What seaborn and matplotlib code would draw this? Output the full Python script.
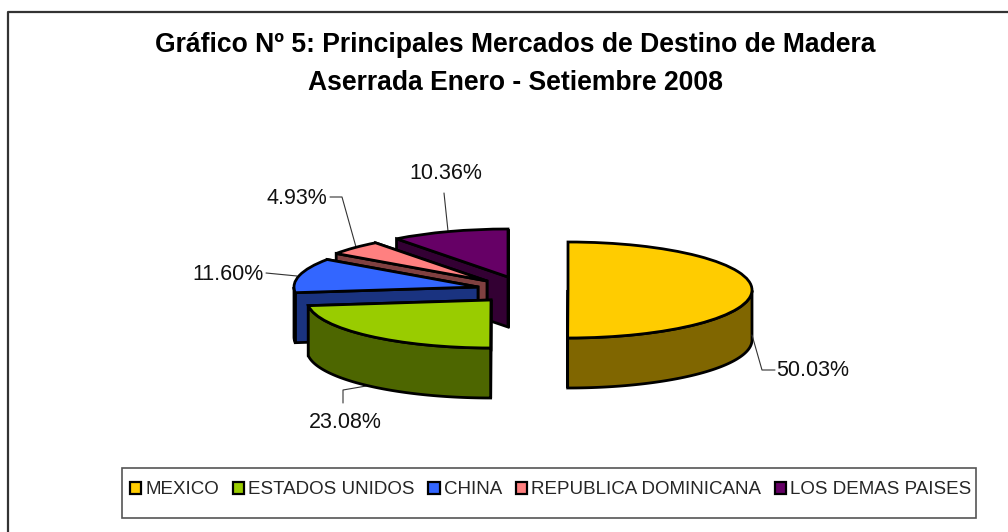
import numpy as np
import matplotlib
matplotlib.use("Agg")
import matplotlib.pyplot as plt
from matplotlib.patches import Polygon, Rectangle
import seaborn as sns

categories = ["MEXICO", "ESTADOS UNIDOS", "CHINA", "REPUBLICA DOMINICANA", "LOS DEMAS PAISES"]
shares = [50.03, 23.08, 11.60, 4.93, 10.36]
top_colors = ["#FFCC00", "#99CC00", "#3366FF", "#FF8080", "#660066"]
side_colors = ["#806600", "#4D6600", "#1A3380", "#804040", "#330033"]
title_lines = ["Gráfico Nº 5: Principales Mercados de Destino de Madera",
               "Aserrada Enero - Setiembre 2008"]

W, H = 1008, 532
RX, RY, DEPTH = 184.0, 48.0, 50
SQ = RY / RX
centers_px = [(568, 290), (491, 300), (478, 287), (487, 281), (508, 277)]
label_px = [(813, 371), (345, 423), (228, 275), (296.5, 199), (445.5, 174)]
leaders_px = [[(752, 335), (762, 370), (775, 370)],
              [(343, 403), (343, 390), (372, 385)],
              [(266, 273), (297, 276)],
              [(330, 197), (342, 197), (356, 247)],
              [(444, 193), (448, 231)]]

sns.set_theme(style="white")
plt.rcParams["font.family"] = ["Liberation Sans", "DejaVu Sans"]
fig = plt.figure(figsize=(W / 100, H / 100), dpi=100, facecolor="white")
ax = fig.add_axes([0, 0, 1, 1])


def to_data(px, py):
    return px, (H - py) / SQ


wedges, _ = ax.pie(shares, colors=top_colors, startangle=90, counterclock=False, radius=RX,
                   wedgeprops=dict(edgecolor="black", linewidth=2.0, joinstyle="miter"))
ax.set_aspect("auto")
ax.set_xlim(0, W)
ax.set_ylim(0, H / SQ)
ax.axis("off")

dz = DEPTH / SQ
order = [4, 3, 2, 1, 0]
for z, i in enumerate(order):
    w = wedges[i]
    cx, cy = to_data(*centers_px[i])
    w.set_center((cx, cy))
    w.set_zorder(10 + 3 * z + 2)
    w.set_clip_on(False)
    # flat cut walls
    for th in (w.theta1, w.theta2):
        t = np.radians(th)
        tip = (cx + RX * np.cos(t), cy + RX * np.sin(t))
        ax.add_patch(Polygon([(cx, cy), tip, (tip[0], tip[1] - dz), (cx, cy - dz)], closed=True,
                             facecolor=side_colors[i], edgecolor="black", lw=2.0,
                             zorder=10 + 3 * z, joinstyle="miter"))
    # outer rim wall on the front half
    a = np.linspace(w.theta1, w.theta2, 200)
    a = a[np.sin(np.radians(a)) <= 0.0] if np.any(np.sin(np.radians(a)) <= 0.0) else np.array([])
    if a.size:
        t = np.radians(a)
        xs, ys = cx + RX * np.cos(t), cy + RX * np.sin(t)
        pts = np.r_[np.c_[xs, ys], np.c_[xs[::-1], ys[::-1] - dz]]
        ax.add_patch(Polygon(pts, closed=True, facecolor=side_colors[i], edgecolor="black", lw=2.0,
                             zorder=10 + 3 * z + 1, joinstyle="miter"))

for i, v in enumerate(shares):
    ax.text(*to_data(*label_px[i]), f"{v:.2f}%", ha="center", va="center", fontsize=15.5,
            color="#111111", zorder=60)
    pts = np.array([to_data(*p) for p in leaders_px[i]])
    ax.plot(pts[:, 0], pts[:, 1], color="#333333", lw=0.8, zorder=5 if i else 50)

for j, line in enumerate(title_lines):
    ax.text(*to_data(515.5, 45 + 38 * j), line, ha="center", va="center", fontsize=19.1,
            fontweight="bold", color="black")

# chart frame: only left and top edges are inside the picture
ax.plot(*zip(*[to_data(*p) for p in [(7.5, 532), (7.5, 12), (1008, 12)]]),
        color="#333333", lw=1.6, clip_on=False)

# legend box
x0, y0 = to_data(122, 518)
x1, y1 = to_data(976, 468)
ax.add_patch(Rectangle((x0, y0), x1 - x0, y1 - y0, facecolor="white", edgecolor="#555555",
                       lw=1.2, zorder=65))
leg = ax.legend(handles=wedges, labels=categories, ncol=5, loc="center left",
                bbox_to_anchor=(130 / W, 1 - 490 / H), bbox_transform=fig.transFigure,
                fontsize=13.5, frameon=False,
                handlelength=0.6, handleheight=0.6, handletextpad=0.22, columnspacing=0.73,
                borderpad=0, borderaxespad=0, labelspacing=0)
for h in leg.legend_handles:
    h.set_linewidth(1.6)
leg.set_zorder(70)

fig.savefig("out.png", dpi=100, facecolor="white")
